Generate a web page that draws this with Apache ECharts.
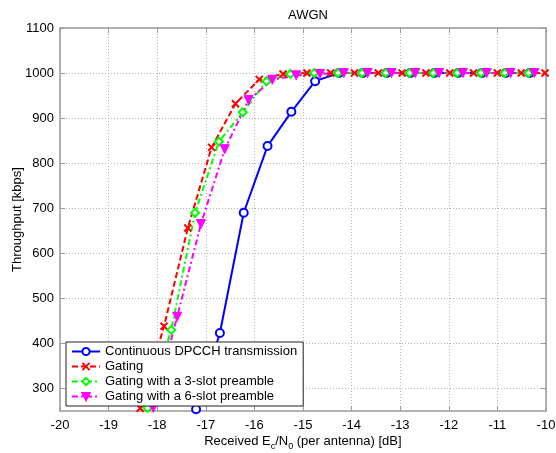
<!DOCTYPE html>
<html><head><meta charset="utf-8">
<script src="https://cdn.jsdelivr.net/npm/echarts@6/dist/echarts.min.js"></script>
<style>html,body{margin:0;padding:0;background:#fff}#c{width:556px;height:453px}</style>
</head><body><div id="c"></div>
<script>
const seriesNames = ['Continuous DPCCH transmission', 'Gating', 'Gating with a 3-slot preamble', 'Gating with a 6-slot preamble'];
const xTicks = [-20, -19, -18, -17, -16, -15, -14, -13, -12, -11, -10];
const yTicks = [300, 400, 500, 600, 700, 800, 900, 1000, 1100];

const contX = [-17.2, -16.71, -16.22, -15.73, -15.24, -14.75, -14.26, -13.77, -13.28, -12.79, -12.3, -11.81, -11.32, -10.83, -10.34];
const contY = [254, 423, 690, 838, 914, 982, 1000, 1000, 1000, 1000, 1000, 1000, 1000, 1000, 1000];

const gatX = [-18.35, -17.86, -17.37, -16.88, -16.39, -15.9, -15.41, -14.92, -14.43, -13.94, -13.45, -12.96, -12.47, -11.98, -11.49, -11.0, -10.51, -10.02];
const gatY = [256, 438, 656, 835, 932, 986, 998, 1000, 1000, 1000, 1000, 1000, 1000, 1000, 1000, 1000, 1000, 1000];

const pre3X = [-18.2, -17.71, -17.22, -16.73, -16.24, -15.75, -15.26, -14.77, -14.28, -13.79, -13.3, -12.81, -12.32, -11.83, -11.34, -10.85, -10.36];
const pre3Y = [257, 430, 690, 848, 913, 982, 998, 1000, 1000, 1000, 1000, 1000, 1000, 1000, 1000, 1000, 1000];

const pre6X = [-18.08, -17.59, -17.1, -16.61, -16.12, -15.63, -15.14, -14.65, -14.16, -13.67, -13.18, -12.69, -12.2, -11.71, -11.22, -10.73, -10.24];
const pre6Y = [257, 459, 665, 831, 940, 985, 995, 998, 1000, 1000, 1000, 1000, 1000, 1000, 1000, 1000, 1000];

const zip = (xs, ys) => xs.map((x, i) => [x, ys[i]]);
const FONT = 'Liberation Sans';
const AX = '#9a9a9a';

const chart = echarts.init(document.getElementById('c'), null, {renderer: 'canvas'});
const baseX = {
  type: 'value', min: -20, max: -10, interval: 1,
  axisLine: {show: true, onZero: false, lineStyle: {color: AX, width: 1.5}},
  axisTick: {show: true, inside: true, length: 5, lineStyle: {color: AX}},
};
const baseY = {
  type: 'value', min: 250, max: 1100,
  axisLine: {show: true, onZero: false, lineStyle: {color: AX, width: 1.5}},
  axisTick: {show: true, inside: true, length: 5, customValues: yTicks, lineStyle: {color: AX}},
};
chart.setOption({
  animation: false,
  textStyle: {fontFamily: FONT},
  title: {text: 'AWGN', left: 303, top: 4, textAlign: 'center',
    textStyle: {fontSize: 13, fontWeight: 'normal', color: '#000', fontFamily: FONT}},
  grid: {left: 60, right: 10, top: 28, bottom: 42, show: false, containLabel: false, outerBoundsMode: 'none'},
  legend: {
    show: true, orient: 'vertical', left: 66, top: 342,
    backgroundColor: '#fff', borderColor: '#222', borderWidth: 1,
    padding: [3, 6, 3, 5], itemGap: 2, itemWidth: 28, itemHeight: 9,
    textStyle: {fontSize: 13, color: '#000', fontFamily: FONT},
    data: seriesNames
  },
  xAxis: [
    Object.assign({}, baseX, {
      position: 'bottom',
      axisLabel: {show: true, margin: 8, color: '#000', fontSize: 13, fontFamily: FONT, formatter: v => String(v)},
      splitLine: {show: true, lineStyle: {color: '#b4b4b4', type: [1, 2], width: 1}},
      name: '{n|Received E}{s|c}{n|/N}{s|0}{n| (per antenna) [dB]}{sp| }',
      nameLocation: 'middle', nameGap: 24, nameMoveOverlap: false,
      nameTextStyle: {
        color: '#000', fontFamily: FONT,
        rich: {
          n: {fontSize: 13, lineHeight: 13, verticalAlign: 'top', color: '#000', fontFamily: FONT},
          s: {fontSize: 9, lineHeight: 9, verticalAlign: 'bottom', color: '#000', fontFamily: FONT},
          sp: {fontSize: 1, lineHeight: 16}
        }
      }
    }),
    Object.assign({}, baseX, {position: 'top', axisLabel: {show: false}, splitLine: {show: false}})
  ],
  yAxis: [
    Object.assign({}, baseY, {
      position: 'left',
      axisLabel: {show: true, margin: 6, color: '#000', fontSize: 13, fontFamily: FONT, customValues: yTicks, formatter: v => String(v)},
      splitLine: {show: true, customValues: yTicks, lineStyle: {color: '#b4b4b4', type: [1, 2], width: 1}},
      name: 'Throughput [kbps]', nameLocation: 'middle', nameGap: 36, nameMoveOverlap: false,
      nameTextStyle: {color: '#000', fontSize: 13, fontFamily: FONT}
    }),
    Object.assign({}, baseY, {position: 'right', axisLabel: {show: false}, splitLine: {show: false}})
  ],
  series: [
    {
      name: seriesNames[0], type: 'line', data: zip(contX, contY),
      symbol: 'emptyCircle', symbolSize: 8,
      lineStyle: {color: '#0000ff', width: 2, type: 'solid'},
      itemStyle: {color: '#0000ff', borderColor: '#0000ff', borderWidth: 2}
    },
    {
      name: seriesNames[1], type: 'line', data: zip(gatX, gatY),
      symbol: 'path://M0,0L10,10M10,0L0,10', symbolSize: 7,
      lineStyle: {color: '#ff0000', width: 2, type: [6, 3]},
      itemStyle: {color: '#ff0000', borderColor: '#ff0000', borderWidth: 2}
    },
    {
      name: seriesNames[2], type: 'line', data: zip(pre3X, pre3Y),
      symbol: 'emptyDiamond', symbolSize: 8,
      lineStyle: {color: '#00ff00', width: 2, type: [6, 3, 2, 3]},
      itemStyle: {color: '#00ff00', borderColor: '#00ff00', borderWidth: 2}
    },
    {
      name: seriesNames[3], type: 'line', data: zip(pre6X, pre6Y),
      symbol: 'triangle', symbolRotate: 180, symbolSize: 9,
      lineStyle: {color: '#ff00ff', width: 2, type: [6, 3, 2, 3]},
      itemStyle: {color: '#ff00ff', borderColor: '#ff00ff', borderWidth: 1}
    }
  ]
});
</script></body></html>
